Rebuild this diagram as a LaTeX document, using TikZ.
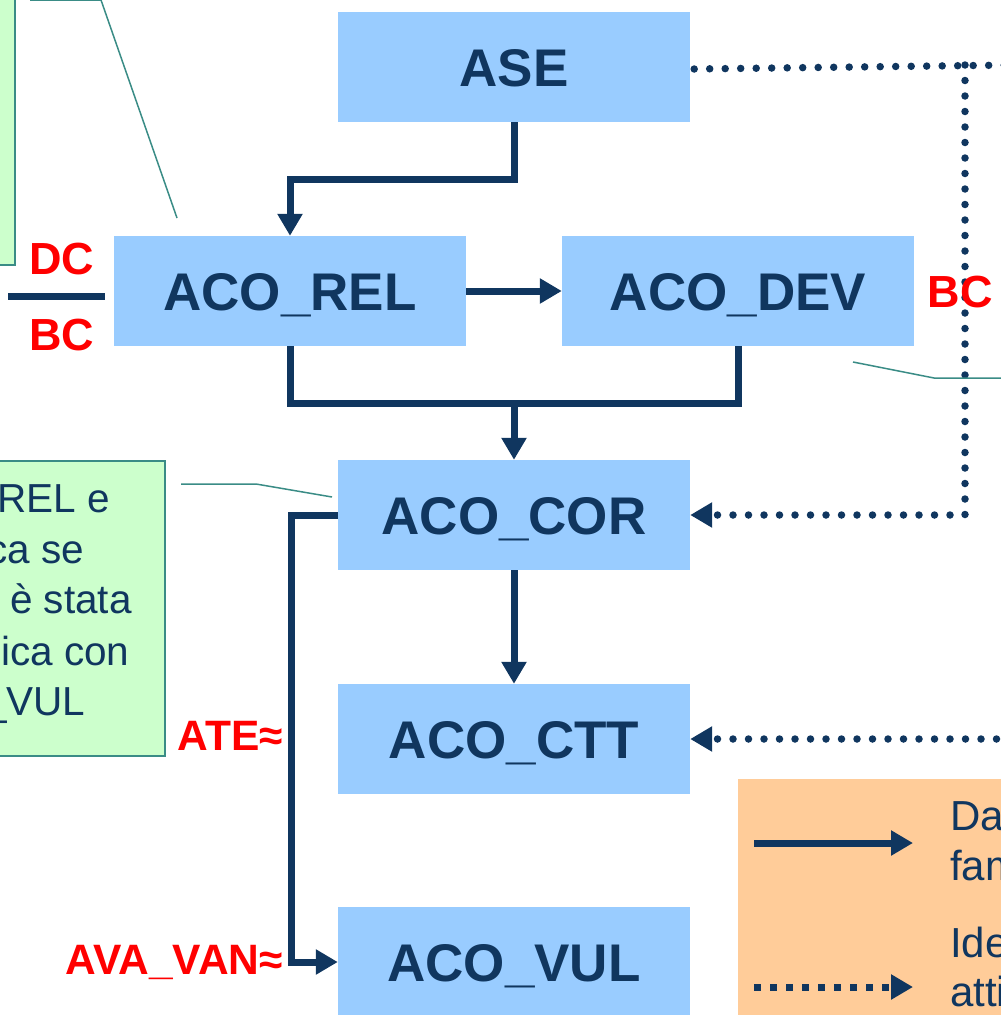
\documentclass[tikz,border=0pt]{standalone}
\usepackage{fontspec}
\setmainfont{Liberation Sans}
\usetikzlibrary{arrows.meta}
\definecolor{navy}{HTML}{10365F}
\definecolor{boxblue}{HTML}{99CCFF}
\definecolor{lgreen}{HTML}{CCFFCC}
\definecolor{tealline}{HTML}{3A8C86}
\definecolor{legor}{HTML}{FFCC99}
\begin{document}
\begin{tikzpicture}[x=1pt,y=-1pt,
  blk/.style={fill=boxblue, minimum width=352pt, minimum height=110pt, inner sep=0pt,
    text=navy, text height=38pt, text depth=0pt, font=\bfseries\fontsize{53}{60}\selectfont},
  flow/.style={draw=navy, line width=7pt, -{Triangle[length=22pt,width=24pt]}},
  flowline/.style={draw=navy, line width=7pt},
  dotflow/.style={draw=navy, line width=7.5pt, line cap=round, dash pattern=on 0pt off 15.5pt},
  dotarrow/.style={dotflow, -{Triangle[length=22pt,width=24pt]}},
  legdot/.style={draw=navy, line width=7pt, dash pattern=on 7pt off 9pt, -{Triangle[length=22pt,width=24pt]}},
  redlab/.style={text=red, inner sep=0pt, font=\bfseries\fontsize{45}{50}\selectfont},
  redlabs/.style={redlab, font=\bfseries\fontsize{42.5}{50}\selectfont},
  note/.style={fill=lgreen, draw=tealline, line width=1.5pt},
  notetxt/.style={text=navy, inner sep=0pt, anchor=base west, font=\fontsize{40.5}{50}\selectfont},
  callout/.style={draw=tealline, line width=1.5pt},
  legtxt/.style={text=navy, inner sep=0pt, anchor=base west, font=\fontsize{42}{50}\selectfont}
]
\useasboundingbox (0,0) rectangle (1001,1015);
\clip (0,0) rectangle (1001,1015);

% green notes
\path[note] (-10,-10) rectangle (15,265);
\path[note] (-10,461) rectangle (165,756);
\node[notetxt] (n1) at (-3,512) {REL e};
\node[notetxt] (n2) at (-13,563) {ca se};
\node[notetxt] (n3) at (10,613) {è stata};
\node[notetxt] (n4) at (1,665) {ica con};
\node[notetxt] (n5) at (-16,715) {\_VUL};

% legend
\path[fill=legor] (738,779) rectangle (1010,1020);

% blocks
\node[blk] (ase) at (514,67) {ASE};
\node[blk] (rel) at (290,291) {ACO\_REL};
\node[blk] (dev) at (738,291) {ACO\_DEV};
\node[blk] (cor) at (514,515) {ACO\_COR};
\node[blk] (ctt) at (514,739) {ACO\_CTT};
\node[blk] (vul) at (514,962) {ACO\_VUL};

% solid connectors
\draw[flow] (ase.south) -- ++(0,57) -| (rel.north);
\draw[flow] (rel.east) -- (dev.west);
\draw[flowline] (rel.south) -- ++(0,57) -| (dev.south);
\coordinate (mid) at (514,400);
\draw[flow] (mid) -- (cor.north);
\draw[flow] (cor.south) -- (ctt.north);
\draw[flow] (cor.west) -- ++(-46,0) |- (vul.west);

% dotted connectors
\coordinate (rightA) at (1015,65);
\coordinate (vtop) at (965,65);
\coordinate (rightB) at (1012,739);
\draw[dotflow] ([xshift=4pt,yshift=-2pt]ase.east) -- (rightA);
\draw[dotarrow] (vtop) |- (cor.east);
\draw[dotarrow] (rightB) -- (ctt.east);

% callout lines
\coordinate (c1a) at (30,0);
\coordinate (c1b) at (101,0);
\coordinate (c1c) at (177,218);
\draw[callout] (c1a) -- (c1b) -- (c1c);
\coordinate (c2a) at (181,484);
\coordinate (c2b) at (256,484);
\coordinate (c2c) at (332,497);
\draw[callout] (c2a) -- (c2b) -- (c2c);
\coordinate (c3a) at (853,362);
\coordinate (c3b) at (934,378);
\coordinate (c3c) at (1010,378);
\draw[callout] (c3a) -- (c3b) -- (c3c);

% red labels
\node[redlab] (dc) at (62,259) {DC};
\node[redlab] (bc1) at (62,335) {BC};
\coordinate (barL) at (8,296);
\coordinate (barR) at (105,296);
\draw[flowline] (barL) -- (barR);
\node[redlab] (bc2) at (960,292) {BC};
\node[redlabs, anchor=base east] (ate) at (283,750) {ATE≈};
\node[redlabs, anchor=base east] (ava) at (283,974) {AVA\_VAN≈};

% legend contents
\coordinate (l1a) at (754,843);
\coordinate (l1b) at (913,843);
\draw[flow] (l1a) -- (l1b);
\coordinate (l2a) at (754,987);
\coordinate (l2b) at (913,987);
\draw[legdot] (l2a) -- (l2b);
\node[legtxt] (t1) at (950,830) {Da};
\node[legtxt] (t2) at (950,880) {fam};
\node[legtxt] (t3) at (950,957) {Ide};
\node[legtxt] (t4) at (950,1006) {atti};
\end{tikzpicture}
\end{document}
